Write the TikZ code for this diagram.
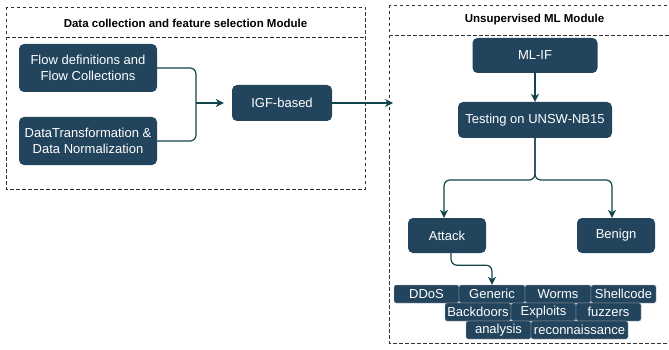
\documentclass[tikz,border=0pt]{standalone}
\usepackage{fontspec}
\setmainfont{Liberation Sans}
\usetikzlibrary{arrows.meta,calc}
\definecolor{boxblue}{HTML}{23445D}
\definecolor{linkteal}{HTML}{10454A}
\definecolor{framegray}{HTML}{333333}

\begin{document}
\begin{tikzpicture}[x=1pt,y=-1pt,
  module/.style={draw=framegray, line width=0.9pt, dash pattern=on 3.5pt off 2.5pt},
  stage/.style={fill=boxblue, rounded corners=5pt, text=white,
    font=\fontsize{13}{16}\selectfont, align=center, inner sep=0pt},
  tag/.style={fill=boxblue, draw=white!72!black, line width=0.4pt, rounded corners=2pt,
    text=white, font=\fontsize{13}{15}\selectfont, inner sep=0pt, minimum height=18pt},
  conn/.style={draw=linkteal, line width=1.2pt, rounded corners=6pt},
  arr/.style={-{Stealth[length=8pt,width=8pt,inset=2.5pt]}},
  title/.style={font=\bfseries\fontsize{11.5}{14}\selectfont}
]
\useasboundingbox (0,0) rectangle (669,350);
\clip (0,0) rectangle (669,350);

% --- module frames ---
\draw[module] (6,7) rectangle (365,189);
\draw[module] (6,37) -- (365,37);
\node[title] (ltitle) at (185.5,23) {Data collection and feature selection Module};

\draw[module] (389,5) rectangle (682,343);
\draw[module] (389,35) -- (682,35);
\node[title] (rtitle) at (534.5,20) {Unsupervised ML Module};

% --- feature selection stages ---
\node[stage, minimum width=138pt, minimum height=48pt] (flow) at (88,68)
  {Flow definitions and\\Flow Collections};
\node[stage, minimum width=138pt, minimum height=48pt] (data) at (88,141)
  {DataTransformation \&\\Data Normalization};
\node[stage, minimum width=100pt, minimum height=36pt] (igf) at (282,103) {IGF-based};

\coordinate (join) at (196,103);
\draw[conn] (flow.east) -| (join);
\draw[conn] (data.east) -| (join);
\draw[conn, arr, shorten >=8pt] (join) -- (igf.west);

\coordinate (mlentry) at (393,103);
\draw[conn, arr] (igf.east) -- (mlentry);

% --- ML stages ---
\node[stage, minimum width=125pt, minimum height=35pt] (mlif) at (535,55.5) {ML-IF};
\node[stage, minimum width=154pt, minimum height=36pt] (test) at (535,120) {Testing on UNSW-NB15};
\draw[conn, arr] (mlif.south) -- (test.north);

\node[stage, minimum width=78pt, minimum height=35pt] (attack) at (447,235.5) {Attack};
\node[stage, minimum width=78pt, minimum height=35pt] (benign) at (616,235.5) {Benign};

\coordinate (fork) at (535,180);
\draw[conn, arr] (test.south) -- (fork) -| ([xshift=-3pt]attack.north);
\draw[conn, arr] (test.south) -- (fork) -| ([xshift=-4pt]benign.north);

% --- attack categories ---
\node[tag, minimum width=65pt] (ddos) at (426.5,294) {DDoS};
\node[tag, minimum width=66pt] (generic) at (492,294) {Generic};
\node[tag, minimum width=66pt] (worms) at (558,294) {Worms};
\node[tag, minimum width=65pt] (shell) at (623.5,294) {Shellcode};
\node[tag, minimum width=66pt] (backdoors) at (478,312) {Backdoors};
\node[tag, minimum width=65pt] (exploits) at (543.5,312) {Exploits};
\node[tag, minimum width=65pt] (fuzzers) at (608.5,312) {fuzzers};
\node[tag, minimum width=65pt] (analysis) at (498.5,330) {analysis};
\node[tag, minimum width=97pt] (recon) at (579.5,330) {reconnaissance};

\draw[conn, arr] ([xshift=4pt]attack.south) -- ++(0,12) -| (generic.north);
\end{tikzpicture}
\end{document}
